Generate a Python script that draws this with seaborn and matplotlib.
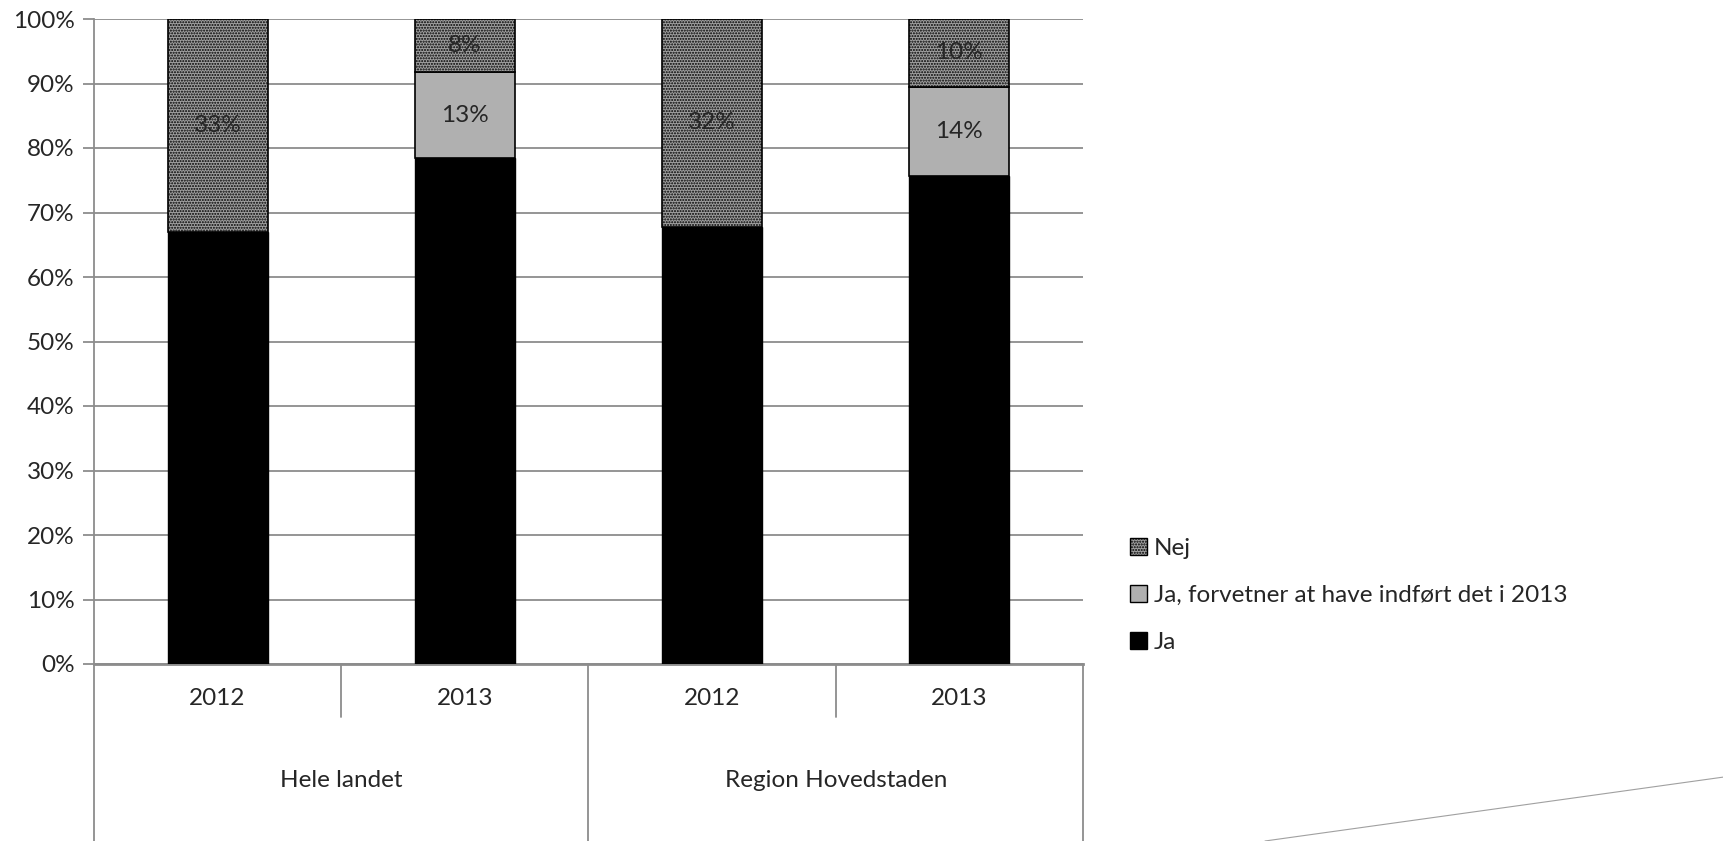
import matplotlib
matplotlib.use("Agg")
import matplotlib.pyplot as plt
import matplotlib.patches as mpatches
import matplotlib.transforms as mtransforms
from matplotlib.lines import Line2D
import numpy as np
import seaborn as sns

# data (andel i procent)
bars = ["Hele landet 2012", "Hele landet 2013", "Region Hovedstaden 2012", "Region Hovedstaden 2013"]
years = ["2012", "2013", "2012", "2013"]
groups = ["Hele landet", "Region Hovedstaden"]
ja = [67.0, 78.4, 67.8, 75.7]
ja_forventer = [0.0, 13.4, 0.0, 13.8]
nej = [33.0, 8.2, 32.2, 10.5]
nej_labels = ["33%", "8%", "32%", "10%"]
mid_labels = ["", "13%", "", "14%"]
series_names = ["Ja", "Ja, forvetner at have indført det i 2013", "Nej"]

sns.set_style("white")
plt.rcParams['font.family'] = ['Lato', 'DejaVu Sans']
plt.rcParams['hatch.linewidth'] = 1.0

fig = plt.figure(figsize=(17.24, 8.41), dpi=100)
ax = fig.add_axes([94/1724, 1-664/841, (1083-94)/1724, 645/841])

ja = np.array(ja)
mid = np.array(ja_forventer)
nej = np.array(nej)

fs = 17.5
sns.barplot(x=bars, y=ja, color="black", edgecolor="black", linewidth=1,
            width=0.405, saturation=1, ax=ax, zorder=3)
ax.bar(range(4), mid, bottom=ja, width=0.405, color="#b0b0b0",
       edgecolor="black", linewidth=1.2, zorder=3)
ax.bar(range(4), nej, bottom=ja + mid, width=0.405, color="#a0a0a0",
       edgecolor="black", hatch="......", linewidth=1.2, zorder=3)

# data labels
for i in range(4):
    ax.text(i, ja[i] + mid[i] + nej[i] / 2, nej_labels[i], ha="center", va="center",
            fontsize=fs, zorder=5)
    if mid_labels[i]:
        ax.text(i, ja[i] + mid[i] / 2, mid_labels[i], ha="center", va="center",
                fontsize=fs, zorder=5)

ax.set_xlim(-0.5, 3.5)
ax.set_ylim(0, 100)
ax.set_yticks(np.arange(0, 101, 10))
ax.set_yticklabels([f"{v}%" for v in range(0, 101, 10)], fontsize=fs)
ax.yaxis.grid(True, color="#8c8c8c", linewidth=1.3, zorder=0)
ax.set_axisbelow(True)
ax.tick_params(axis="y", left=True, length=8, width=1.3, color="#8c8c8c", pad=6)
ax.set_xticks([])
ax.set_xlabel("")
for s in ["top", "right"]:
    ax.spines[s].set_visible(False)
ax.spines["left"].set_color("#8c8c8c")
ax.spines["left"].set_linewidth(1.3)
ax.spines["bottom"].set_color("#8c8c8c")
ax.spines["bottom"].set_linewidth(2)

# two-level category axis
trans = mtransforms.blended_transform_factory(ax.transData, ax.transAxes)
for i, yr in enumerate(years):
    ax.text(i, -0.053, yr, transform=trans, ha="center", va="center", fontsize=fs)
for j, g in enumerate(groups):
    ax.text(2 * j + 0.5, -0.18, g, transform=trans, ha="center", va="center", fontsize=fs)
for xs in [0.5, 2.5]:
    ax.add_line(Line2D([xs, xs], [0, -0.082], transform=trans, color="#8c8c8c",
                       linewidth=1.3, clip_on=False))
for xs in [-0.5, 1.5, 3.5]:
    ax.add_line(Line2D([xs, xs], [0, -0.28], transform=trans, color="#8c8c8c",
                       linewidth=1.3, clip_on=False))

# legend
handles = [
    mpatches.Patch(facecolor="#a0a0a0", edgecolor="black", hatch="......", label=series_names[2]),
    mpatches.Patch(facecolor="#b0b0b0", edgecolor="black", label=series_names[1]),
    mpatches.Patch(facecolor="black", edgecolor="black", label=series_names[0]),
]
fig.legend(handles=handles, loc="upper left", bbox_to_anchor=(1120/1724, 1-528/841),
           frameon=False, fontsize=fs, handlelength=0.7, handleheight=0.7,
           handletextpad=0.3, labelspacing=1.08, borderaxespad=0)

# thin decorative line bottom right
fig.add_artist(Line2D([1265/1724, 1], [0, 1-777/841], transform=fig.transFigure,
                      color="#a0a0a0", linewidth=0.8))

fig.savefig("out.png", dpi=100)
